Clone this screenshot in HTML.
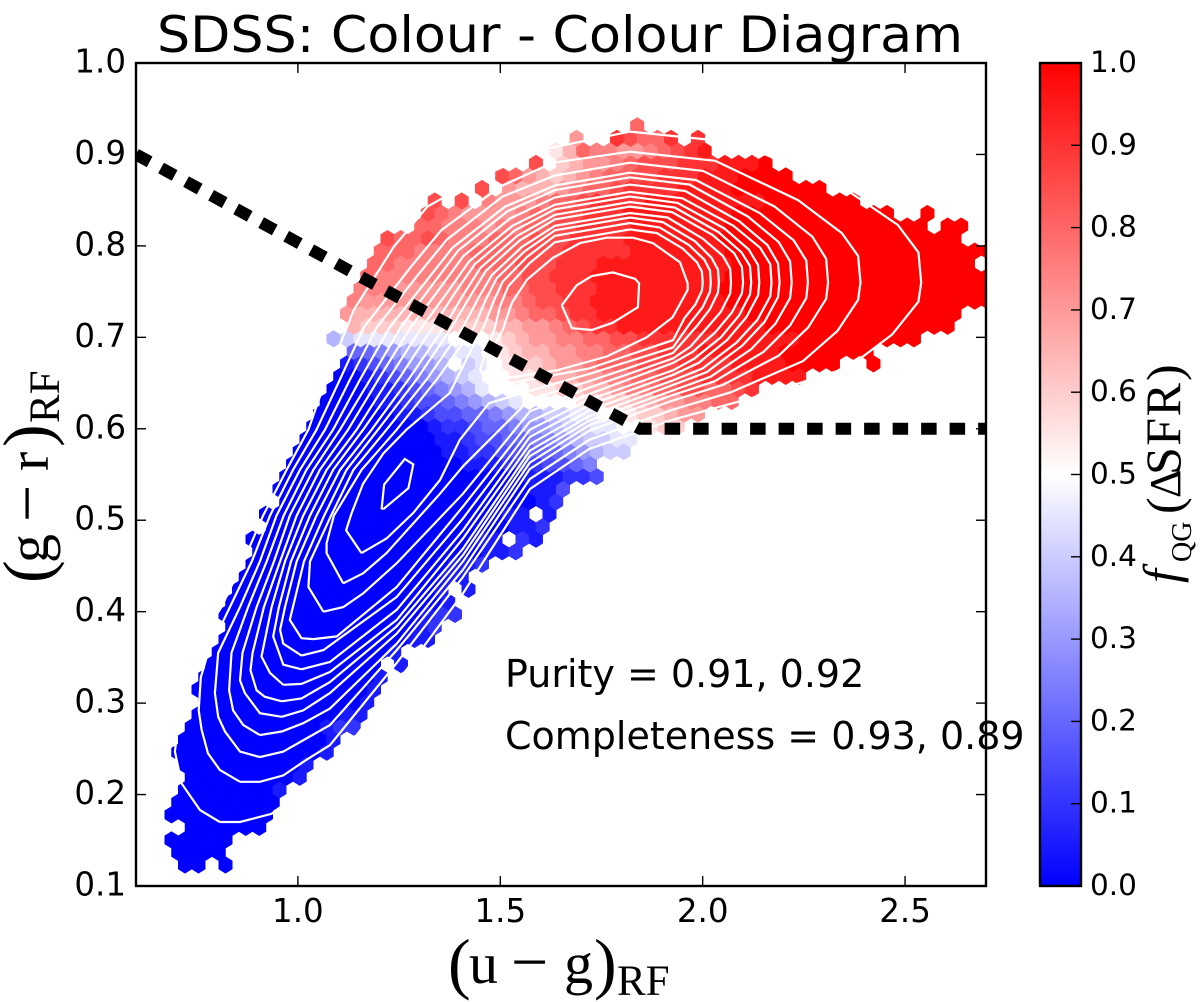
<!DOCTYPE html>
<html lang="en">
<head>
<meta charset="utf-8">
<title>SDSS: Colour - Colour Diagram</title>
<style>
html,body{margin:0;padding:0;background:#fff;}
svg{display:block;}
text{fill:#000;}
.sans{font-family:"DejaVu Sans","Liberation Sans",sans-serif;}
.serif{font-family:"Liberation Serif","DejaVu Serif",serif;}
</style>
</head>
<body>
<svg id="chart" xmlns="http://www.w3.org/2000/svg" width="1200" height="1002" viewBox="0 0 1200 1002">
  <defs>
    <clipPath id="axes-clip"><rect x="136" y="63" width="850" height="823"/></clipPath>
    <linearGradient id="bwr" x1="0" y1="1" x2="0" y2="0">
      <stop offset="0" stop-color="#0000ff"/>
      <stop offset="0.5" stop-color="#ffffff"/>
      <stop offset="1" stop-color="#ff0000"/>
    </linearGradient>
  </defs>
  <text class="sans" x="157" y="52" font-size="50" textLength="806" lengthAdjust="spacingAndGlyphs">SDSS: Colour - Colour Diagram</text>
  <g id="hexes" clip-path="url(#axes-clip)"></g>
  <g id="contours" clip-path="url(#axes-clip)" fill="none" stroke="#fff" stroke-width="2.2" stroke-linejoin="miter"></g>
  <g id="cuts" clip-path="url(#axes-clip)" fill="none" stroke="#000" stroke-width="12" stroke-dasharray="15.5 13"></g>
  <rect x="136" y="63" width="850" height="823" fill="none" stroke="#000" stroke-width="2.4"/>
  <g id="ticks" stroke="#000" stroke-width="1.4"></g>
  <g id="tick-labels" class="sans" font-size="32.5"></g>
  <text class="sans" x="505" y="687" font-size="38">Purity = 0.91, 0.92</text>
  <text class="sans" x="505" y="749" font-size="38">Completeness = 0.93, 0.89</text>
  <text class="serif" font-size="58"><tspan x="448" y="986" font-size="68">(</tspan><tspan x="469" y="983">u</tspan><tspan x="511" y="984" font-size="66">−</tspan><tspan x="564" y="983">g</tspan><tspan x="594" y="986" font-size="68">)</tspan><tspan x="617" y="995" font-size="43">RF</tspan></text>
  <text class="serif" transform="translate(0,581) rotate(-90)" font-size="58"><tspan x="-2" y="50" font-size="68">(</tspan><tspan x="18" y="48">g</tspan><tspan x="59" y="49" font-size="66">−</tspan><tspan x="110" y="48">r</tspan><tspan x="134" y="50" font-size="68">)</tspan><tspan x="158" y="59" font-size="43">RF</tspan></text>
  <rect x="1040" y="63" width="41" height="823" fill="url(#bwr)" stroke="#000" stroke-width="2.4"/>
  <g id="cbar-ticks" stroke="#000" stroke-width="1.4"></g>
  <g id="cbar-labels" class="sans" font-size="29.5"></g>
  <text class="serif" transform="translate(0,583) rotate(-90)" font-size="50"><tspan x="0" y="1178" font-style="italic">f</tspan><tspan x="21" y="1191" font-size="28">QG</tspan><tspan x="69" y="1181">(</tspan><tspan x="85" y="1180" font-size="44">Δ</tspan><tspan x="108" y="1180" letter-spacing="1.5">SFR</tspan><tspan x="202" y="1181">)</tspan></text>
</svg>
<script>
/* Tick labels */
const xTicks = [1.0, 1.5, 2.0, 2.5];
const yTicks = [0.1, 0.2, 0.3, 0.4, 0.5, 0.6, 0.7, 0.8, 0.9, 1.0];
const colorbarTicks = [0.0, 0.1, 0.2, 0.3, 0.4, 0.5, 0.6, 0.7, 0.8, 0.9, 1.0];

/* Selection boundary, in data units */
const boundaryU = [0.6, 1.845, 2.7];
const boundaryG = [0.9, 0.6, 0.6];

/* f_QG legend for the hex rows: each character is one cell value */
const valueCodes = "0123456789abcdefghijk";
const valueSteps = [0,.05,.1,.15,.2,.25,.3,.35,.4,.45,.5,.55,.6,.65,.7,.75,.8,.85,.9,.95,1];

/* Hexbin rows, bottom to top: [first column, cell codes]. Space = empty bin */
const hexRows = [
[3,"00 0"],
[2,"0000"],
[2,"00000"],
[3,"000000"],
[2,"00000000"],
[2,"00000000"],
[3,"00000001"],
[3,"000000001"],
[3,"0000000001"],
[2,"000000000001"],
[3,"000000000001"],
[3,"0000000000122"],
[4,"0000000000011"],
[4,"0000000000001"],
[4,"00000000000001"],
[4,"00000000000001"],
[5,"0000000000000 1"],
[5,"00000000000001"],
[6,"0000000000000011"],
[6,"0000000000000012"],
[6,"000000000000000122"],
[6,"00000000000000001"],
[7,"0000000000000001 1"],
[7,"00000000000000011"],
[8,"000000000000000112"],
[8,"00000000000000000112"],
[8,"0000000000000000011 21"],
[9,"000000000000000000112"],
[9,"00000000000000000011 1"],
[10,"000000000000000000012"],
[10,"0000000000000000000113"],
[10,"000000000000000000111223"],
[11,"00000000000001112223345"],
[11,"0000000000011223344456788"],
[12,"0000000000112334455678899"],
[12,"00000000012234456678899aabcc"],
[13,"000000112334456778899aabccdee"],
[13,"000011233456789aaaabbccddeeffgg"],
[14,"000112345679aaabbccddeffgghhgghi"],
[14,"00123456789aabbcddeeffgghhhiiiijjjj"],
[15,"12345667 89abccdeefggghhhiiiijjjjkkkk  k"],
[15,"4456778899abcddeeffgghhiiijjjjjjkkkkkkk"],
[14,"789999999aaabcdeeffgghhiiiiiijjjjjjkkkkkkkkk"],
[15,"dcccbbbccccddeefghiijjjjjjjjjjjkkkkkkkkkkkkkk"],
[15,"eddddddddddeefgghiijjjjjjjjjjjkkkkkkkkkkkkkkkk"],
[15,"feeeeeeeeeeffghhiijjjjjjjjjjkkkkkkkkkkkkkkkkkkkk"],
[16,"fffeeeeefffgghhiiijjjjjjjjjkkkkkkkkkkkkkkkkkkkk"],
[16,"gfffffffffgghhiiijjjjjjjjjjkkkkkkkkkkkkkkkkkkkk"],
[17,"ggffffffggghhhiiijjjjjjjjjjkkkkkkkkkkkkkkkkkk"],
[17,"gggffffgggghhhiiiiijjjjjjjkkkkkkkkkkkkkkkkkkkk"],
[18,"hgghgfffggghhhiiiijjjjjjjkkkkkkkkkkkkkkkkkk"],
[20,"ggfffeffgghhiiiijjjjjjjkkkkkkkkkkkkkkk kk"],
[21,"hgfeeeefgghhiiijjjjjjjjkkkkkkkkkkkk  k"],
[21,"h h feeefgghiiiijjjjjjjjjkkkkkkk"],
[25,"h edddefgghiiiijjjjkkkkkkk"],
[26,"hgedcdefgghhiiijjjkkkk"],
[29,"h cdeefghhhiiijjjk"],
[30,"bdgffeefghij"],
[32,"e  ihggi i"],
[36,"g"]
];

/* Contour levels, each a flat list of u-g, g-r pairs */
const contourLevels = [
[.807,.17,.857,.17,.935,.179,1.079,.227,1.244,.322,1.408,.42,1.573,.534,1.72,.578,1.927,.61,2.14,.636,2.36,.667,2.468,.703,2.533,.739,2.54,.76,2.533,.793,2.482,.823,2.346,.864,2.086,.913,1.82,.925,1.6,.905,1.45,.875,1.32,.843,1.237,.799,1.138,.73,1.121,.711,1.07,.655,1.026,.599,.972,.555,.914,.505,.865,.455,.811,.405,.741,.355,.708,.289,.696,.247,.713,.212,.758,.183,.807,.17],
[.857,.214,.906,.214,.964,.221,1.021,.238,1.079,.254,1.244,.344,1.408,.438,1.573,.545,1.72,.588,1.927,.621,2.07,.64,2.248,.674,2.333,.707,2.384,.741,2.39,.76,2.384,.789,2.344,.814,2.236,.85,2.031,.893,1.82,.903,1.63,.891,1.5,.865,1.354,.817,1.279,.777,1.163,.711,1.105,.655,1.046,.599,.988,.555,.931,.505,.886,.455,.832,.405,.778,.355,.76,.328,.755,.292,.762,.271,.778,.245,.807,.227,.857,.214],
[.906,.241,.964,.247,1.079,.276,1.244,.358,1.408,.446,1.573,.556,1.72,.598,1.927,.631,2.05,.648,2.188,.68,2.261,.711,2.305,.742,2.31,.76,2.305,.786,2.271,.81,2.178,.843,2.001,.882,1.82,.891,1.635,.877,1.506,.854,1.368,.807,1.298,.769,1.195,.711,1.13,.655,1.067,.599,1.005,.555,.947,.505,.906,.455,.857,.405,.803,.355,.795,.311,.803,.285,.82,.269,.857,.247,.906,.241],
[.906,.265,.96,.269,1.013,.278,1.079,.294,1.244,.365,1.408,.455,1.573,.563,1.72,.604,1.927,.637,2.03,.652,2.15,.684,2.216,.713,2.256,.743,2.26,.76,2.256,.784,2.225,.806,2.141,.836,1.983,.872,1.82,.88,1.635,.866,1.512,.843,1.382,.798,1.316,.761,1.227,.711,1.155,.655,1.087,.599,1.021,.555,.965,.505,.923,.455,.877,.405,.836,.355,.83,.314,.84,.292,.865,.276,.906,.265],
[.96,.285,1.013,.292,1.079,.311,1.244,.376,1.408,.462,1.573,.57,1.72,.609,1.927,.642,2.02,.657,2.12,.687,2.18,.715,2.216,.743,2.22,.76,2.216,.783,2.188,.804,2.112,.832,1.968,.867,1.82,.875,1.635,.861,1.518,.838,1.396,.795,1.335,.759,1.254,.711,1.18,.655,1.104,.599,1.038,.555,.98,.505,.941,.455,.898,.405,.863,.355,.857,.325,.869,.311,.906,.289,.96,.285],
[.96,.302,1.009,.305,1.079,.323,1.244,.384,1.408,.469,1.573,.576,1.72,.614,1.927,.648,2.01,.662,2.098,.691,2.153,.717,2.186,.744,2.19,.76,2.186,.781,2.16,.801,2.09,.827,1.957,.86,1.82,.867,1.635,.853,1.524,.83,1.409,.789,1.353,.755,1.279,.711,1.2,.655,1.124,.599,1.054,.555,.997,.505,.956,.455,.916,.405,.888,.355,.883,.336,.898,.314,.918,.307,.96,.302],
[.964,.32,1.009,.321,1.079,.334,1.244,.391,1.408,.48,1.573,.583,1.72,.62,1.927,.653,2,.666,2.083,.694,2.135,.719,2.167,.745,2.17,.76,2.167,.78,2.142,.798,2.076,.822,1.95,.852,1.82,.859,1.635,.845,1.53,.822,1.423,.783,1.372,.751,1.306,.711,1.225,.655,1.145,.599,1.071,.555,1.013,.505,.968,.455,.935,.405,.91,.351,.931,.333,.964,.32],
[1.009,.337,1.079,.345,1.244,.402,1.408,.489,1.573,.591,1.72,.626,1.927,.659,1.99,.672,2.06,.697,2.108,.722,2.137,.746,2.14,.76,2.137,.779,2.114,.796,2.054,.819,1.938,.847,1.82,.854,1.635,.84,1.536,.817,1.437,.78,1.39,.75,1.333,.711,1.25,.655,1.161,.599,1.087,.555,1.03,.505,.983,.455,.953,.405,.939,.373,.964,.342,1.009,.337],
[1.009,.352,1.063,.358,1.244,.416,1.408,.502,1.573,.599,1.72,.632,1.927,.664,1.98,.677,2.045,.7,2.09,.724,2.117,.747,2.12,.76,2.117,.778,2.096,.793,2.039,.815,1.931,.842,1.82,.848,1.635,.834,1.542,.811,1.451,.776,1.409,.747,1.361,.711,1.275,.655,1.182,.599,1.104,.555,1.046,.505,.997,.455,.968,.405,.956,.38,.964,.365,1.009,.352],
[1.038,.37,1.096,.373,1.244,.427,1.408,.515,1.573,.608,1.72,.638,1.927,.672,1.975,.684,2.03,.705,2.072,.727,2.097,.748,2.1,.76,2.097,.777,2.078,.792,2.024,.812,1.924,.837,1.82,.843,1.635,.829,1.548,.806,1.465,.773,1.427,.746,1.38,.711,1.295,.655,1.198,.599,1.12,.555,1.065,.505,1.015,.455,.98,.391,1.009,.371,1.038,.37],
[1.063,.4,1.112,.405,1.161,.42,1.244,.453,1.408,.529,1.573,.619,1.72,.645,1.927,.677,1.97,.69,2.008,.709,2.045,.728,2.068,.748,2.07,.76,2.068,.775,2.05,.789,2,.808,1.913,.831,1.82,.836,1.635,.822,1.554,.799,1.479,.768,1.446,.743,1.408,.711,1.32,.655,1.219,.599,1.137,.555,1.082,.505,1.03,.455,1.026,.427,1.063,.4],
[1.112,.431,1.161,.442,1.219,.464,1.351,.529,1.408,.559,1.573,.632,1.72,.652,1.927,.683,1.985,.712,2.018,.731,2.038,.749,2.04,.76,2.038,.774,2.022,.787,1.981,.805,1.901,.826,1.82,.831,1.635,.817,1.56,.794,1.492,.765,1.464,.741,1.435,.711,1.345,.655,1.244,.599,1.157,.555,1.089,.505,1.071,.475,1.071,.464,1.112,.431],
[1.157,.464,1.219,.48,1.285,.508,1.351,.544,1.4,.588,1.472,.628,1.608,.646,1.72,.66,1.927,.689,1.97,.716,2,.733,2.018,.75,2.02,.76,2.018,.773,2.004,.785,1.966,.801,1.894,.82,1.82,.825,1.635,.811,1.566,.788,1.506,.761,1.482,.738,1.459,.711,1.44,.697,1.375,.639,1.268,.599,1.211,.573,1.161,.54,1.133,.508,1.119,.489,1.157,.464],
[1.82,.818,1.635,.804,1.572,.781,1.52,.756,1.5,.735,1.487,.711,1.45,.665,1.47,.65,1.5,.648,1.6,.656,1.72,.666,1.927,.697,1.955,.721,1.982,.736,1.998,.751,2,.76,1.998,.772,1.986,.782,1.951,.797,1.887,.814,1.82,.818],
[1.963,.759,1.944,.782,1.877,.803,1.828,.809,1.763,.809,1.697,.803,1.63,.787,1.566,.763,1.529,.738,1.506,.708,1.469,.679,1.469,.664,1.524,.656,1.64,.664,1.763,.679,1.862,.7,1.926,.722,1.963,.752,1.963,.759],
[1.652,.735,1.689,.757,1.726,.767,1.778,.771,1.833,.764,1.843,.759,1.84,.733,1.778,.716,1.726,.708,1.677,.71,1.652,.735],
[1.211,.512,1.273,.535,1.285,.561,1.264,.567,1.213,.539,1.207,.513,1.211,.512]
];

/* Axis functions */
const SVGNS = "http://www.w3.org/2000/svg";
const axLeft = 136, axRight = 986, axTop = 63, axBottom = 886;
function xScale(u){ return axLeft + (u - 0.6) / 2.1 * (axRight - axLeft); }
function yScale(g){ return axBottom - (g - 0.1) / 0.9 * (axBottom - axTop); }
function cbarScale(f){ return axBottom - f * (axBottom - axTop); }

/* Hex grid geometry in data units */
const gridU0 = 0.621, gridDU = 0.03335, gridG0 = 0.123, gridDG = 0.0137;
function bwr(v){
  if (v <= 0.5){
    const c = Math.round(510 * v);
    return "rgb(" + c + "," + c + ",255)";
  }
  const c = Math.round(510 * (1 - v));
  return "rgb(255," + c + "," + c + ")";
}
function el(name, parent){
  const e = document.createElementNS(SVGNS, name);
  parent.appendChild(e);
  return e;
}

/* Hex cells */
const hexLayer = document.getElementById("hexes");
const halfW = (xScale(0.6 + gridDU) - xScale(0.6)) / 2;
const rowPx = yScale(0.1) - yScale(0.1 + gridDG);
const radius = rowPx * 2 / 3;
hexRows.forEach(function(row, r){
  const start = row[0], codes = row[1];
  for (let i = 0; i < codes.length; i++){
    const code = codes.charAt(i);
    if (code === " ") continue;
    const value = valueSteps[valueCodes.indexOf(code)];
    const c = start + i;
    const u = gridU0 + (c + (r % 2 ? 0.5 : 0)) * gridDU;
    const g = gridG0 + r * gridDG;
    const cx = xScale(u), cy = yScale(g);
    const hex = el("polygon", hexLayer);
    
    
    hex.setAttribute("points", [
      [cx, cy - radius], [cx + halfW, cy - radius / 2], [cx + halfW, cy + radius / 2],
      [cx, cy + radius], [cx - halfW, cy + radius / 2], [cx - halfW, cy - radius / 2]
    ].map(function(p){ return p[0].toFixed(2) + "," + p[1].toFixed(2); }).join(" "));
    hex.setAttribute("fill", bwr(value));
    hex.setAttribute("stroke", bwr(value));
    hex.setAttribute("stroke-width", "0.5");
  }
});

/* Contours */
const contourLayer = document.getElementById("contours");
contourLevels.forEach(function(level){
  const pts = [];
  for (let i = 0; i < level.length; i += 2){
    pts.push(xScale(level[i]).toFixed(1) + "," + yScale(level[i + 1]).toFixed(1));
  }
  const line = el("polyline", contourLayer);
  
  
  line.setAttribute("points", pts.join(" "));
});

/* Selection boundary */
const cutLine = el("polyline", document.getElementById("cuts"));


cutLine.setAttribute("points", boundaryU.map(function(u, i){
  return xScale(u).toFixed(1) + "," + yScale(boundaryG[i]).toFixed(1);
}).join(" "));

/* Axis ticks and labels */
const tickLayer = document.getElementById("ticks");
const labelLayer = document.getElementById("tick-labels");
function tick(layer, x1, y1, x2, y2){
  const t = el("line", layer);
  
  
  t.setAttribute("x1", x1); t.setAttribute("y1", y1);
  t.setAttribute("x2", x2); t.setAttribute("y2", y2);
}
xTicks.forEach(function(v){
  const x = xScale(v);
  tick(tickLayer, x, axBottom, x, axBottom - 10);
  tick(tickLayer, x, axTop, x, axTop + 10);
  const t = el("text", labelLayer);
  
  
  t.setAttribute("x", x);
  t.setAttribute("y", axBottom + 36);
  t.setAttribute("text-anchor", "middle");
  t.textContent = v.toFixed(1);
});
yTicks.forEach(function(v){
  const y = yScale(v);
  tick(tickLayer, axLeft, y, axLeft + 10, y);
  tick(tickLayer, axRight, y, axRight - 10, y);
  const t = el("text", labelLayer);
  
  
  t.setAttribute("x", axLeft - 10);
  t.setAttribute("y", y + 9.5);
  t.setAttribute("text-anchor", "end");
  t.textContent = v.toFixed(1);
});

/* Colorbar ticks and labels */
const cbarTickLayer = document.getElementById("cbar-ticks");
const cbarLabelLayer = document.getElementById("cbar-labels");
colorbarTicks.forEach(function(v){
  const y = cbarScale(v);
  tick(cbarTickLayer, 1081, y, 1071, y);
  const t = el("text", cbarLabelLayer);
  
  
  t.setAttribute("x", 1090);
  t.setAttribute("y", y + 9);
  t.textContent = v.toFixed(1);
});
</script>
</body>
</html>
